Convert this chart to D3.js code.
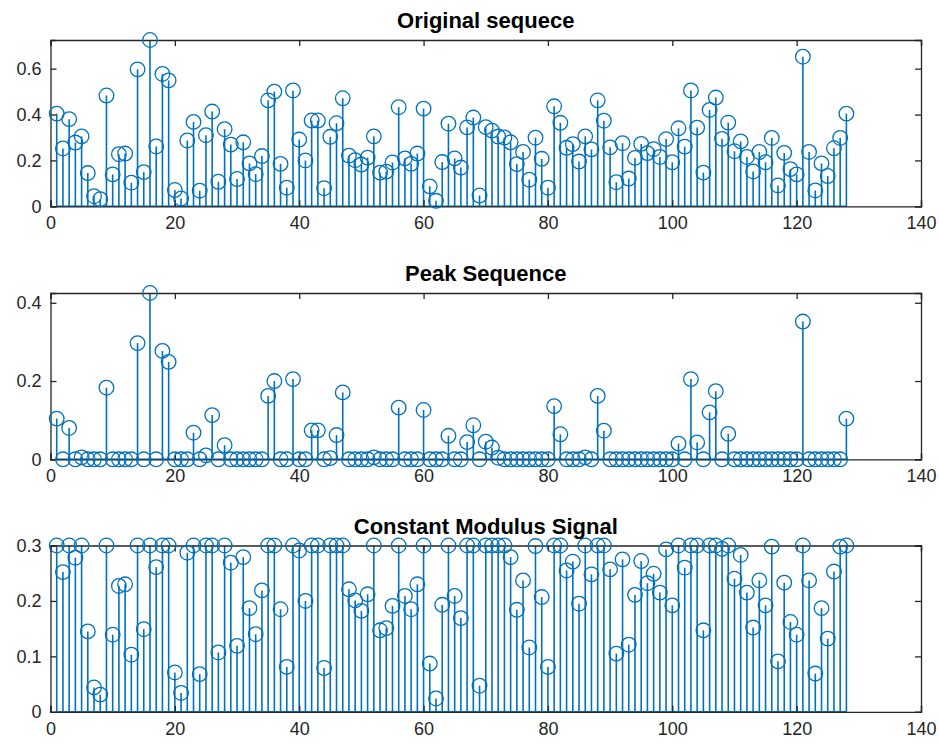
<!DOCTYPE html>
<html>
<head>
<meta charset="utf-8">
<script src="https://cdn.jsdelivr.net/npm/d3@7"></script>
<style>
  body { margin: 0; background: #fff; }
  text { font-family: "Liberation Sans", Arial, Helvetica, sans-serif; }
</style>
</head>
<body>
<script>
// sample index 1..128
const indices = d3.range(1, 129);

const original = [0.404,0.252,0.380,0.278,0.305,0.145,0.044,0.031,0.483,0.139,
  0.227,0.230,0.103,0.597,0.149,0.725,0.261,0.577,0.549,0.071,
  0.034,0.287,0.368,0.068,0.310,0.413,0.107,0.336,0.269,0.119,
  0.279,0.187,0.140,0.219,0.462,0.500,0.185,0.081,0.505,0.291,
  0.200,0.374,0.374,0.079,0.303,0.362,0.471,0.221,0.201,0.182,
  0.212,0.305,0.147,0.151,0.191,0.432,0.209,0.185,0.230,0.426,
  0.087,0.024,0.193,0.360,0.209,0.169,0.344,0.387,0.047,0.345,
  0.330,0.304,0.300,0.279,0.184,0.237,0.116,0.299,0.207,0.081,
  0.436,0.364,0.255,0.271,0.195,0.305,0.248,0.462,0.373,0.257,
  0.105,0.275,0.121,0.211,0.272,0.232,0.249,0.215,0.293,0.192,
  0.340,0.260,0.505,0.343,0.147,0.420,0.474,0.294,0.365,0.240,
  0.283,0.215,0.152,0.237,0.192,0.298,0.091,0.233,0.162,0.139,
  0.652,0.237,0.069,0.187,0.132,0.253,0.298,0.404];

const peak = [0.104,0,0.080,0,0.005,0,0,0,0.183,0,
  0,0,0,0.297,0,0.425,0,0.277,0.249,0,
  0,0,0.068,0,0.010,0.113,0,0.036,0,0,
  0,0,0,0,0.162,0.200,0,0,0.205,0,
  0,0.074,0.074,0,0.003,0.062,0.171,0,0,0,
  0,0.005,0,0,0,0.132,0,0,0,0.126,
  0,0,0,0.060,0,0,0.044,0.087,0,0.045,
  0.030,0.004,0,0,0,0,0,0,0,0,
  0.136,0.064,0,0,0,0.005,0,0.162,0.073,0,
  0,0,0,0,0,0,0,0,0,0,
  0.040,0,0.205,0.043,0,0.120,0.174,0,0.065,0,
  0,0,0,0,0,0,0,0,0,0,
  0.352,0,0,0,0,0,0,0.104];

const constant = [0.3,0.252,0.3,0.278,0.3,0.145,0.044,0.031,0.3,0.139,
  0.227,0.230,0.103,0.3,0.149,0.3,0.261,0.3,0.3,0.071,
  0.034,0.287,0.3,0.068,0.3,0.3,0.107,0.3,0.269,0.119,
  0.279,0.187,0.140,0.219,0.3,0.3,0.185,0.081,0.3,0.291,
  0.200,0.3,0.3,0.079,0.3,0.3,0.3,0.221,0.201,0.182,
  0.212,0.3,0.147,0.151,0.191,0.3,0.209,0.185,0.230,0.3,
  0.087,0.024,0.193,0.3,0.209,0.169,0.3,0.3,0.047,0.3,
  0.3,0.3,0.3,0.279,0.184,0.237,0.116,0.299,0.207,0.081,
  0.3,0.3,0.255,0.271,0.195,0.3,0.248,0.3,0.3,0.257,
  0.105,0.275,0.121,0.211,0.272,0.232,0.249,0.215,0.293,0.192,
  0.3,0.260,0.3,0.3,0.147,0.3,0.3,0.294,0.3,0.240,
  0.283,0.215,0.152,0.237,0.192,0.298,0.091,0.233,0.162,0.139,
  0.3,0.237,0.069,0.187,0.132,0.253,0.298,0.3];

const xTicks = [0, 20, 40, 60, 80, 100, 120, 140];
const titles = ["Original sequece", "Peak Sequence", "Constant Modulus Signal"];
const series = [original, peak, constant];
const yTicks = [[0, 0.2, 0.4, 0.6], [0, 0.2, 0.4], [0, 0.1, 0.2, 0.3]];

const w = 939, h = 744;
const left = 50.5, right = 921;
const panelTop = [40, 293, 545.5];
const panelH = 166.3;
const blue = "#0072BD";
const axisColor = "#262626";

const svg = d3.select("body").append("svg")
    .attr("width", w)
    .attr("height", h);

const xScale = d3.scaleLinear().domain([0, 140]).range([left, right]);

series.forEach(function (values, p) {
    const top = panelTop[p];
    const bottom = top + panelH;
    const yScale = d3.scaleLinear()
        .domain([0, d3.max(values)])
        .range([bottom, top]);

    const g = svg.append("g");

    g.append("rect")
        .attr("x", left).attr("y", top)
        .attr("width", right - left).attr("height", panelH)
        .attr("fill", "#fff");

    // stems
    g.selectAll("line.stem")
        .data(values)
        .enter()
        .append("line")
        .attr("class", "stem")
        .attr("x1", (d, i) => xScale(indices[i]))
        .attr("x2", (d, i) => xScale(indices[i]))
        .attr("y1", yScale(0))
        .attr("y2", d => yScale(d))
        .attr("stroke", blue)
        .attr("stroke-width", 1.6);

    // baseline
    g.append("line")
        .attr("x1", xScale(indices[0])).attr("x2", xScale(indices[indices.length - 1]))
        .attr("y1", yScale(0)).attr("y2", yScale(0))
        .attr("stroke", blue).attr("stroke-width", 1.6);

    // box with inward ticks
    const bottomAxis = g.append("g")
        .attr("transform", "translate(0," + bottom + ")")
        .call(d3.axisBottom(xScale).tickValues(xTicks).tickSize(-6).tickPadding(10).tickFormat(d3.format("d")));
    const topAxis = g.append("g")
        .attr("transform", "translate(0," + top + ")")
        .call(d3.axisTop(xScale).tickValues(xTicks).tickSize(-6).tickFormat(""));
    const leftAxis = g.append("g")
        .attr("transform", "translate(" + left + ",0)")
        .call(d3.axisLeft(yScale).tickValues(yTicks[p]).tickSize(-6).tickPadding(9)
            .tickFormat(d => d === 0 ? "0" : d3.format(".1f")(d)));
    const rightAxis = g.append("g")
        .attr("transform", "translate(" + right + ",0)")
        .call(d3.axisRight(yScale).tickValues(yTicks[p]).tickSize(-6).tickFormat(""));

    [bottomAxis, topAxis, leftAxis, rightAxis].forEach(function (a) {
        a.select(".domain").attr("stroke", axisColor).attr("stroke-width", 1.3);
        a.selectAll(".tick line").attr("stroke", axisColor).attr("stroke-width", 1.3);
        a.selectAll("text")
            .attr("fill", axisColor)
            .style("font-size", "18px");
    });

    // markers
    g.selectAll("circle")
        .data(values)
        .enter()
        .append("circle")
        .attr("cx", (d, i) => xScale(indices[i]))
        .attr("cy", d => yScale(d))
        .attr("r", 7.3)
        .attr("fill", "none")
        .attr("stroke", blue)
        .attr("stroke-width", 1.3);

    // title
    svg.append("text")
        .attr("x", (left + right) / 2)
        .attr("y", top - 12)
        .attr("text-anchor", "middle")
        .attr("font-weight", "bold")
        .attr("font-size", "22px")
        .attr("fill", "#000")
        .text(titles[p]);
});
</script>
</body>
</html>
